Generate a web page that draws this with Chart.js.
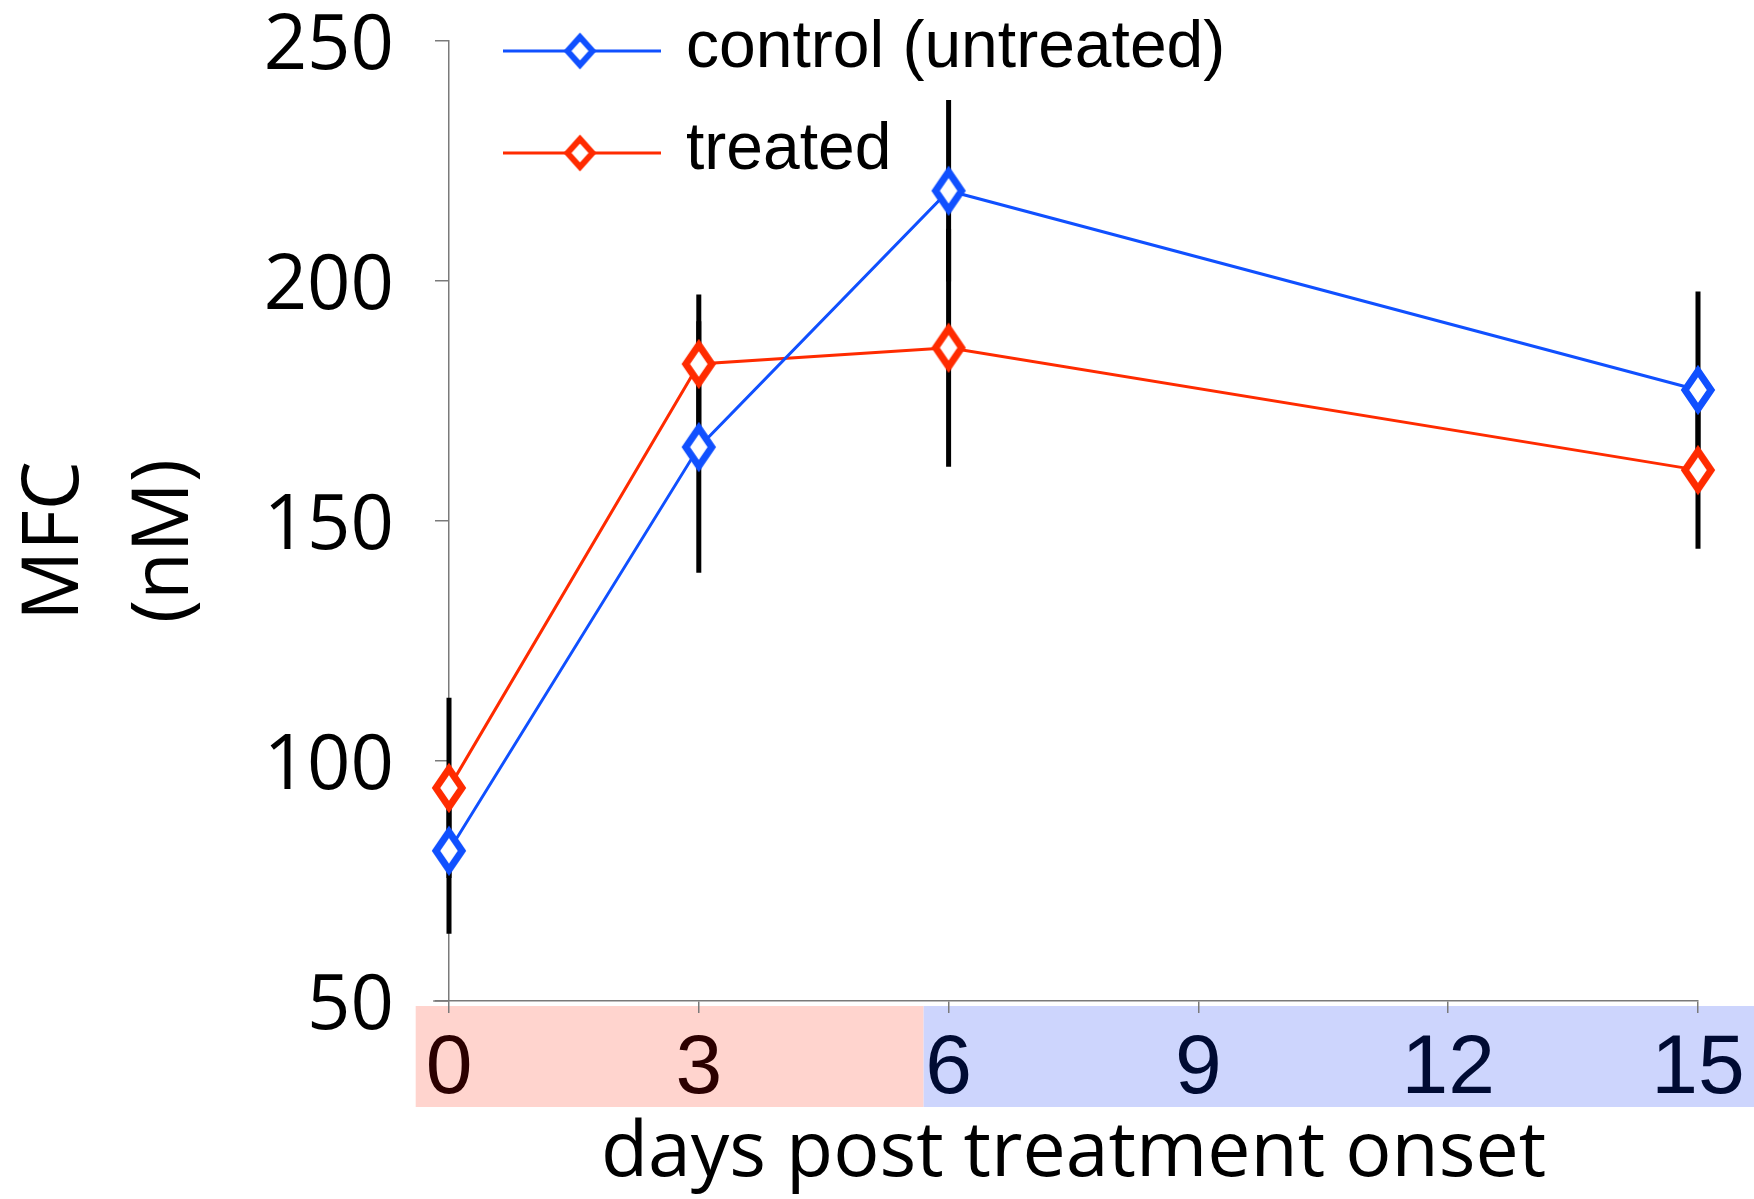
<!DOCTYPE html>
<html>
<head>
<meta charset="utf-8">
<script src="https://cdn.jsdelivr.net/npm/chart.js@4.4.1/dist/chart.umd.min.js"></script>
<style>
  html, body { margin: 0; padding: 0; background: #fff; }
</style>
</head>
<body>
<canvas id="mfc-chart" width="1754" height="1199"></canvas>
<script>
// values
const days = [0, 3, 6, 15];
const controlMfc = [81.3, 165.4, 218.8, 177.3];
const controlErr = [17.3, 26.2, 18.9, 20.5];
const treatedMfc = [94.4, 182.7, 186.1, 160.6];
const treatedErr = [18.8, 14.5, 24.8, 16.4];
const seriesLabels = ['control (untreated)', 'treated'];
const xTicks = [0, 3, 6, 9, 12, 15];
const yTicks = [50, 100, 150, 200, 250];
const xTitle = 'days post treatment onset';
const yTitleLines = ['MFC', '(nM)'];
const treatmentPhase = [-0.4, 5.7];   // pink band, in days; blue band from end to edge

const BLUE = '#1050ff';
const RED = '#ff2b00';
const AXIS = '#7a7a7a';

const makeDiamond = function (color, w, h, lw) {
    let c = document.createElement('canvas');
    c.width = w + 16;
    c.height = h + 16;
    let g = c.getContext('2d');
    let cx = c.width / 2, cy = c.height / 2;
    g.beginPath();
    g.moveTo(cx, cy - h / 2);
    g.lineTo(cx + w / 2, cy);
    g.lineTo(cx, cy + h / 2);
    g.lineTo(cx - w / 2, cy);
    g.closePath();
    g.fillStyle = '#fff';
    g.fill();
    g.lineJoin = 'miter';
    g.lineWidth = lw;
    g.strokeStyle = color;
    g.stroke();
    return c;
};

const toPoints = function (values) {
    return values.map(function (v, i) {
        return {x: days[i], y: v};
    });
};

const bandPlugin = {
    id: 'bands',
    beforeDraw(chart) {
        let ctx = chart.ctx;
        let x = chart.scales.x;
        let top = x.top + 5, h = 101;
        let a = x.getPixelForValue(treatmentPhase[0]);
        let b = x.getPixelForValue(treatmentPhase[1]);
        ctx.save();
        ctx.fillStyle = '#ffd4ce';
        ctx.fillRect(a, top, b - a, h);
        ctx.fillStyle = '#cdd5fd';
        ctx.fillRect(b, top, chart.width - b, h);
        ctx.restore();
    },
    afterDraw(chart) {
        let ctx = chart.ctx;
        let x = chart.scales.x;
        ctx.save();
        // x axis line runs a little past the y axis
        ctx.strokeStyle = AXIS;
        ctx.lineWidth = 1.5;
        ctx.beginPath();
        ctx.moveTo(x.getPixelForValue(-0.19), x.top);
        ctx.lineTo(x.left, x.top);
        ctx.stroke();
        // two-line y title, rotated
        ctx.fillStyle = '#000';
        ctx.font = '78px "Open Sans", sans-serif';
        ctx.textAlign = 'center';
        ctx.textBaseline = 'middle';
        yTitleLines.forEach(function (line, i) {
            ctx.save();
            ctx.translate(56 + i * 110, 541);
            ctx.rotate(-Math.PI / 2);
            ctx.fillText(line, 0, 0);
            ctx.restore();
        });
        ctx.restore();
    }
};

const errorBarPlugin = {
    id: 'errorBars',
    beforeDatasetsDraw(chart) {
        let ctx = chart.ctx;
        let x = chart.scales.x, y = chart.scales.y;
        ctx.save();
        ctx.strokeStyle = '#000';
        ctx.lineWidth = 5;
        chart.data.datasets.forEach(function (ds) {
            ds.data.forEach(function (pt, i) {
                let px = x.getPixelForValue(pt.x);
                ctx.beginPath();
                ctx.moveTo(px, y.getPixelForValue(pt.y - ds.errors[i]));
                ctx.lineTo(px, y.getPixelForValue(pt.y + ds.errors[i]));
                ctx.stroke();
            });
        });
        ctx.restore();
    }
};

const legendPlugin = {
    id: 'lineLegend',
    afterDraw(chart) {
        let ctx = chart.ctx;
        let left = chart.chartArea.left;
        ctx.save();
        ctx.font = '66px "Liberation Sans", Arial, sans-serif';
        ctx.fillStyle = '#000';
        ctx.textBaseline = 'alphabetic';
        chart.data.datasets.forEach(function (ds, i) {
            let rowY = 51 + i * 102;
            ctx.strokeStyle = ds.borderColor;
            ctx.lineWidth = 3;
            ctx.beginPath();
            ctx.moveTo(left + 54, rowY);
            ctx.lineTo(left + 212, rowY);
            ctx.stroke();
            let icon = ds.legendIcon;
            ctx.drawImage(icon, left + 131 - icon.width / 2, rowY - icon.height / 2);
            ctx.fillText(ds.label, left + 237, rowY + 16);
        });
        ctx.restore();
    }
};

const makeDataset = function (label, values, errors, color) {
    return {
        label: label,
        data: toPoints(values),
        errors: errors,
        borderColor: color,
        backgroundColor: '#fff',
        borderWidth: 3,
        tension: 0,
        pointStyle: makeDiamond(color, 26, 38, 7),
        pointRadius: 25,
        legendIcon: makeDiamond(color, 25, 28, 6),
        clip: false
    };
};

new Chart(document.getElementById('mfc-chart'), {
    type: 'line',
    data: {
        datasets: [
            makeDataset(seriesLabels[0], controlMfc, controlErr, BLUE),
            makeDataset(seriesLabels[1], treatedMfc, treatedErr, RED)
        ]
    },
    options: {
        responsive: false,
        animation: false,
        devicePixelRatio: 1,
        layout: {padding: {left: 0, right: 56, top: 41, bottom: 0}},
        plugins: {legend: {display: false}, tooltip: {enabled: false}},
        scales: {
            x: {
                type: 'linear',
                min: 0,
                max: 15,
                afterBuildTicks: function (s) {
                    s.ticks = xTicks.map(function (v) { return {value: v}; });
                },
                afterFit: function (s) {
                    s.height = 198;
                    s.paddingLeft = 0;
                    s.paddingRight = 0;
                },
                grid: {drawOnChartArea: false, drawTicks: true, tickLength: 12, color: AXIS, lineWidth: 1.5},
                border: {display: true, color: AXIS, width: 1.5},
                ticks: {
                    padding: 15,
                    maxRotation: 0,
                    autoSkip: false,
                    font: {family: '"Liberation Sans", Arial, sans-serif', size: 84, lineHeight: 1},
                    color: function (c) {
                        return c.tick && c.tick.value < 6 ? '#2b0000' : '#000b33';
                    }
                },
                title: {
                    display: true,
                    text: xTitle,
                    color: '#000',
                    font: {family: '"Open Sans", sans-serif', size: 77, lineHeight: 1.2},
                    padding: {top: 0, bottom: -1}
                }
            },
            y: {
                min: 50,
                max: 250,
                afterBuildTicks: function (s) {
                    s.ticks = yTicks.map(function (v) { return {value: v}; });
                },
                afterFit: function (s) {
                    s.width = 449;
                    s.paddingTop = 0;
                    s.paddingBottom = 0;
                },
                grid: {drawOnChartArea: false, drawTicks: true, tickLength: 14, color: AXIS, lineWidth: 1.5},
                border: {display: true, color: AXIS, width: 1.5},
                ticks: {
                    padding: 41,
                    labelOffset: 6,
                    color: '#000',
                    font: {family: '"Open Sans", sans-serif', size: 76, lineHeight: 1}
                },
                title: {display: false}
            }
        }
    },
    plugins: [bandPlugin, errorBarPlugin, legendPlugin]
});
</script>
</body>
</html>
